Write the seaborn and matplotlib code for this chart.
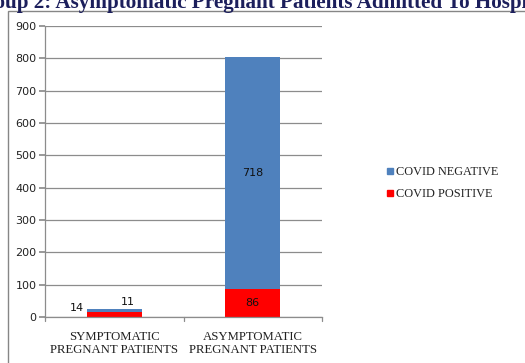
import matplotlib
matplotlib.use("Agg")
import matplotlib.pyplot as plt
import seaborn as sns
import pandas as pd
from matplotlib.patches import Rectangle
from matplotlib.lines import Line2D

categories = ["SYMPTOMATIC\nPREGNANT PATIENTS", "ASYMPTOMATIC\nPREGNANT PATIENTS"]
covid_positive = [14, 86]
covid_negative = [11, 718]
y_ticks = [0, 100, 200, 300, 400, 500, 600, 700, 800, 900]
title = "Group 2: Asymptomatic Pregnant Patients Admitted To Hospital"

blue = "#4F81BD"
red = "#FF0000"

sns.set_theme(style="white")
plt.rcParams['font.family'] = ['DejaVu Sans']

df = pd.DataFrame({
    "category": categories,
    "positive": covid_positive,
    "negative": covid_negative,
})
df["total"] = df["positive"] + df["negative"]

fig = plt.figure(figsize=(5.25, 3.63), dpi=100)
ax = fig.add_axes([45/525, 1-317/363, (322-45)/525, (317-26)/363])

sns.barplot(data=df, x="category", y="total", color=blue, width=0.4,
            saturation=1, ax=ax, linewidth=0)
sns.barplot(data=df, x="category", y="positive", color=red, width=0.4,
            saturation=1, ax=ax, linewidth=0)
if ax.get_legend() is not None:
    ax.get_legend().remove()

ax.set_ylim(0, 900)
ax.set_yticks(y_ticks)
ax.set_yticklabels([str(v) for v in y_ticks], fontsize=8, color="#222222",
                   family="DejaVu Sans")
ax.set_xlabel("")
ax.set_ylabel("")
ax.set_xlim(-0.5, 1.5)
ax.set_xticks([0, 1])
ax.set_xticklabels(categories, fontsize=9.2, family="Liberation Serif",
                   color="#222222", linespacing=1.1)
ax.grid(axis="y", color="#8c8c8c", linewidth=0.9)
ax.set_axisbelow(True)
for s in ["top", "right"]:
    ax.spines[s].set_visible(False)
for s in ["left", "bottom"]:
    ax.spines[s].set_color("#8c8c8c")
    ax.spines[s].set_linewidth(0.9)
ax.tick_params(axis="y", left=True, length=4, color="#8c8c8c", pad=2)
ax.tick_params(axis="x", bottom=False, pad=4)
# category boundary ticks
for xb in [-0.5, 0.5, 1.5]:
    ax.plot([xb, xb], [0, -0.013], transform=ax.get_xaxis_transform(),
            color="#8c8c8c", lw=0.9, clip_on=False)

# data labels
neg_bars = ax.containers[0]
pos_bars = ax.containers[1]
lab_kw = dict(fontsize=8, color="#111111", family="DejaVu Sans")
# symptomatic
pb = pos_bars[0]
nb = neg_bars[0]
ax.annotate(str(covid_positive[0]), (pb.get_x(), pb.get_height() / 2),
            xytext=(-7, 5), textcoords="offset points", ha="center", va="center", **lab_kw)
ax.annotate(str(covid_negative[0]), (nb.get_x() + nb.get_width() * 0.75, nb.get_height()),
            xytext=(0, 5), textcoords="offset points", ha="center", va="center", **lab_kw)
# asymptomatic
pb = pos_bars[1]
nb = neg_bars[1]
ax.text(pb.get_x() + pb.get_width() / 2, pb.get_height() / 2, str(covid_positive[1]),
        ha="center", va="center", **lab_kw)
ax.text(nb.get_x() + nb.get_width() / 2, (pb.get_height() + nb.get_height()) / 2,
        str(covid_negative[1]), ha="center", va="center", **lab_kw)

# legend
handles = [Line2D([], [], marker="s", ls="", color=blue, markersize=5),
           Line2D([], [], marker="s", ls="", color=red, markersize=5)]
fig.legend(handles, ["COVID NEGATIVE", "COVID POSITIVE"], loc="center left",
           bbox_to_anchor=(373/525, 1-183/363), frameon=False,
           prop={"family": "Liberation Serif", "size": 8.8},
           handletextpad=0.0, handlelength=1.0, labelspacing=0.85,
           labelcolor="#222222")

# outer chart border
fig.patches.append(Rectangle((8/525, -0.2), 1.5, 1.2 - 11/363, transform=fig.transFigure,
                             fill=False, edgecolor="#868686", linewidth=1.0))

# title (clipped at the figure edges as in the reference)
fig.text(260/525, 1 - 3/363, title, ha="center", va="center", fontsize=15.2,
         fontweight="bold", family="Liberation Serif", color="#1C1F5C")

fig.savefig("out.png", dpi=100)
